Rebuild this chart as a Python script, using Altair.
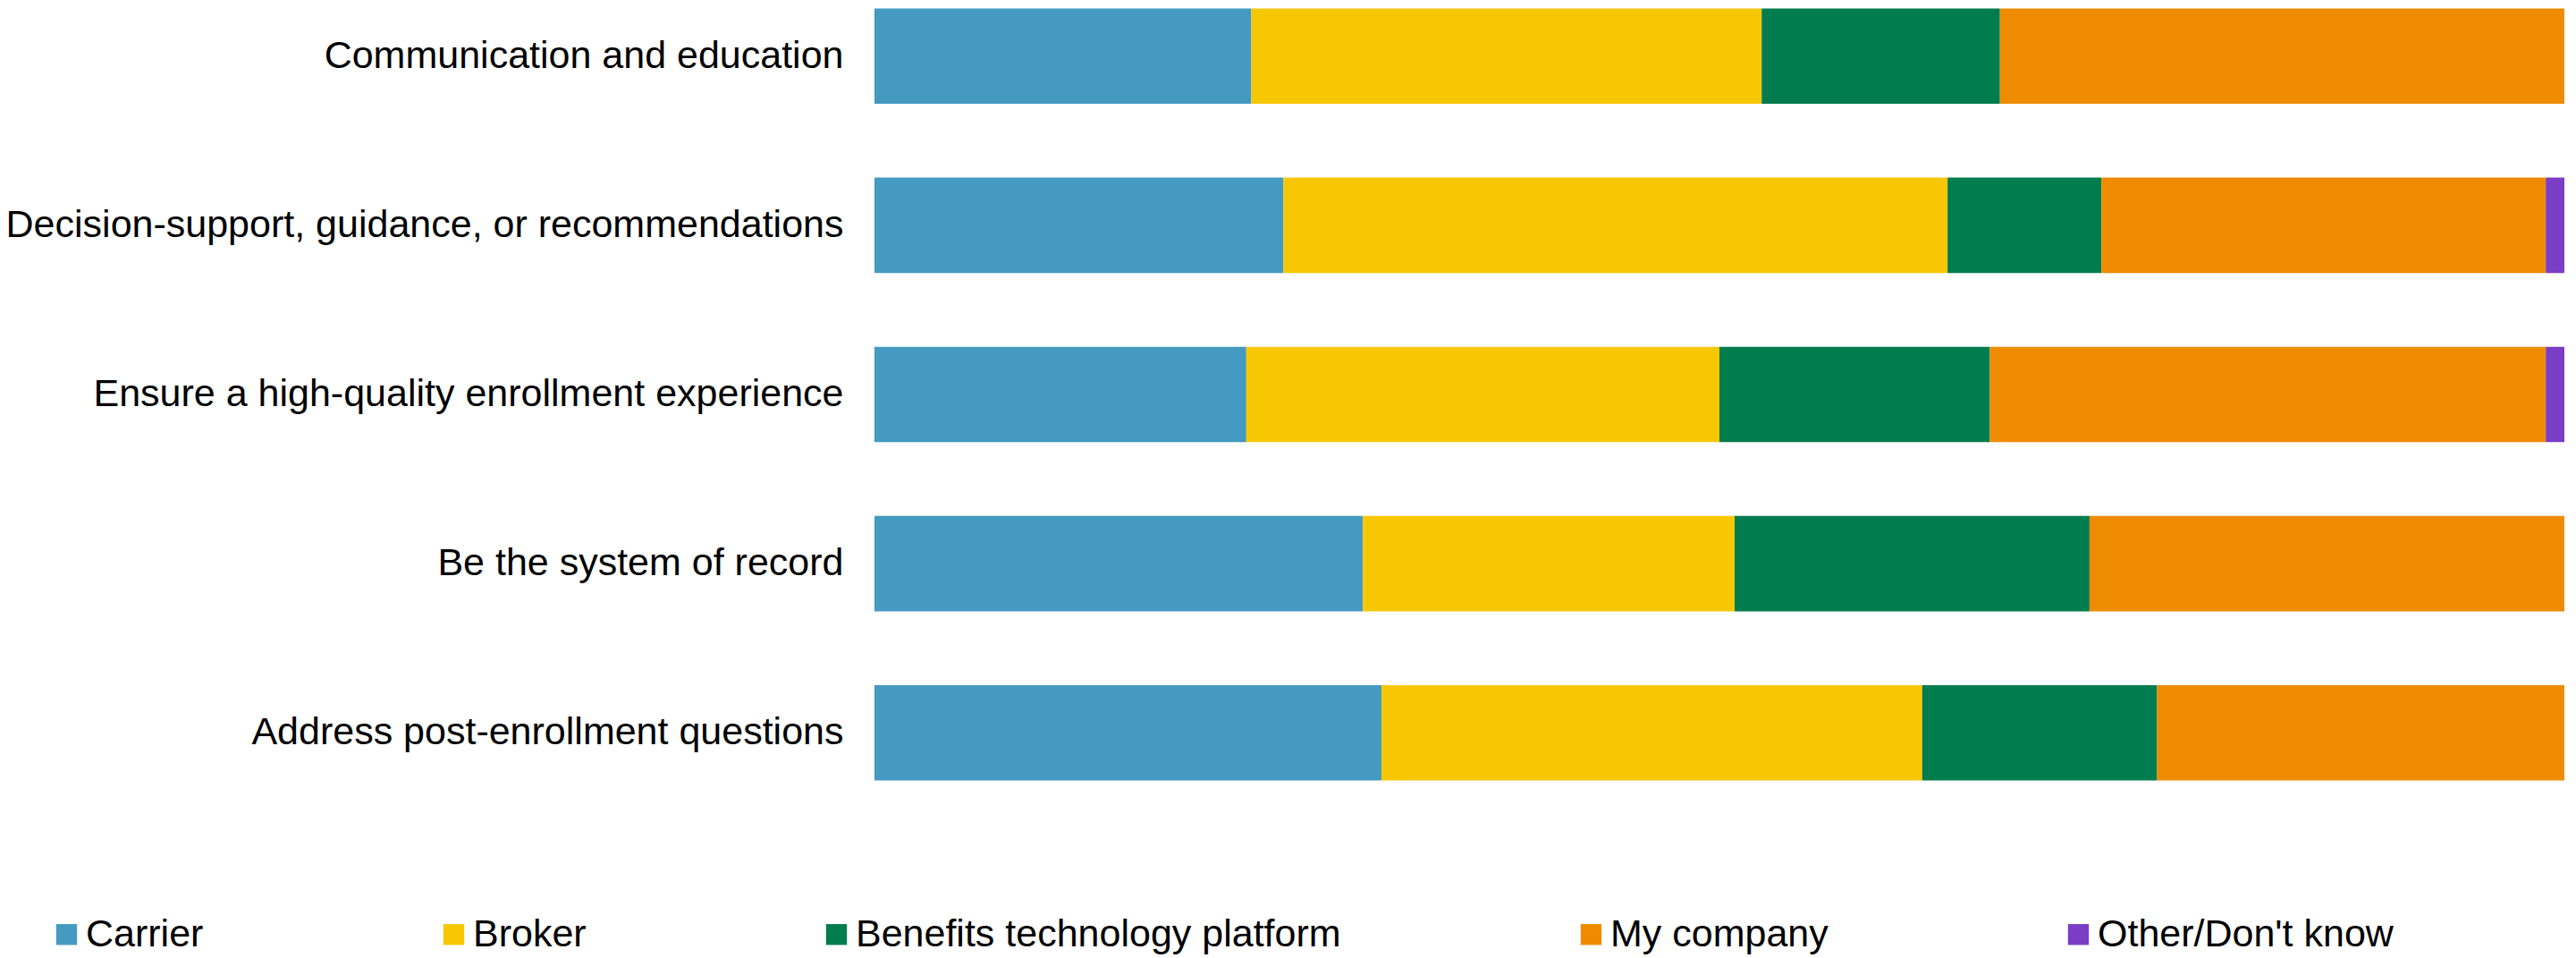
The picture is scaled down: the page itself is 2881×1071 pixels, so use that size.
import altair as alt
import pandas as pd

categories = [
    "Communication and education",
    "Decision-support, guidance, or recommendations",
    "Ensure a high-quality enrollment experience",
    "Be the system of record",
    "Address post-enrollment questions",
]
series = ["Carrier", "Broker", "Benefits technology platform", "My company", "Other/Don't know"]
carrier = [22.3, 24.2, 22.0, 28.9, 30.0]
broker = [30.2, 39.3, 28.0, 22.0, 32.0]
btp = [14.1, 9.1, 16.0, 21.0, 13.9]
my_company = [33.4, 26.3, 32.9, 28.1, 24.1]
other = [0.0, 1.1, 1.1, 0.0, 0.0]
colors = ["#449AC1", "#F8C704", "#007C4F", "#EE8B00", "#7B3CC6"]

rows = []
for i, cat in enumerate(categories):
    for j, (s, vals) in enumerate(zip(series, [carrier, broker, btp, my_company, other])):
        rows.append({"category": cat, "series": s, "value": vals[i], "order": j})
df = pd.DataFrame(rows)

FONT = "Liberation Sans"

chart = (
    alt.Chart(df)
    .mark_bar()
    .encode(
        y=alt.Y(
            "category:N",
            sort=categories,
            scale=alt.Scale(paddingInner=0.436, paddingOuter=0.05),
            axis=alt.Axis(
                title=None,
                domain=False,
                ticks=False,
                grid=False,
                labelFontSize=43,
                labelColor="#000000",
                labelPadding=35,
                labelLimit=2000,
                labelFont=FONT,
            ),
        ),
        x=alt.X(
            "value:Q",
            stack="normalize",
            scale=alt.Scale(domain=[0, 1], nice=False),
            axis=None,
        ),
        color=alt.Color(
            "series:N",
            scale=alt.Scale(domain=series, range=colors),
            legend=alt.Legend(
                title=None,
                orient="none",
                legendX=-925,
                legendY=1023,
                direction="horizontal",
                columns=5,
                symbolType="square",
                symbolSize=545,
                symbolStrokeWidth=0,
                labelFontSize=43,
                labelFont=FONT,
                labelColor="#000000",
                labelOffset=0,
                columnPadding=258,
                labelLimit=2000,
                padding=0,
            ),
        ),
        order=alt.Order("order:Q"),
    )
    .properties(
        width=1890,
        height=882,
        padding={"left": 978, "top": 0, "right": 13, "bottom": 189},
        autosize=alt.AutoSizeParams(type="none"),
        background="#ffffff",
    )
    .configure_view(stroke=None, strokeWidth=0)
)

chart.save("out.html", embed_options={"renderer": "svg", "actions": False})
